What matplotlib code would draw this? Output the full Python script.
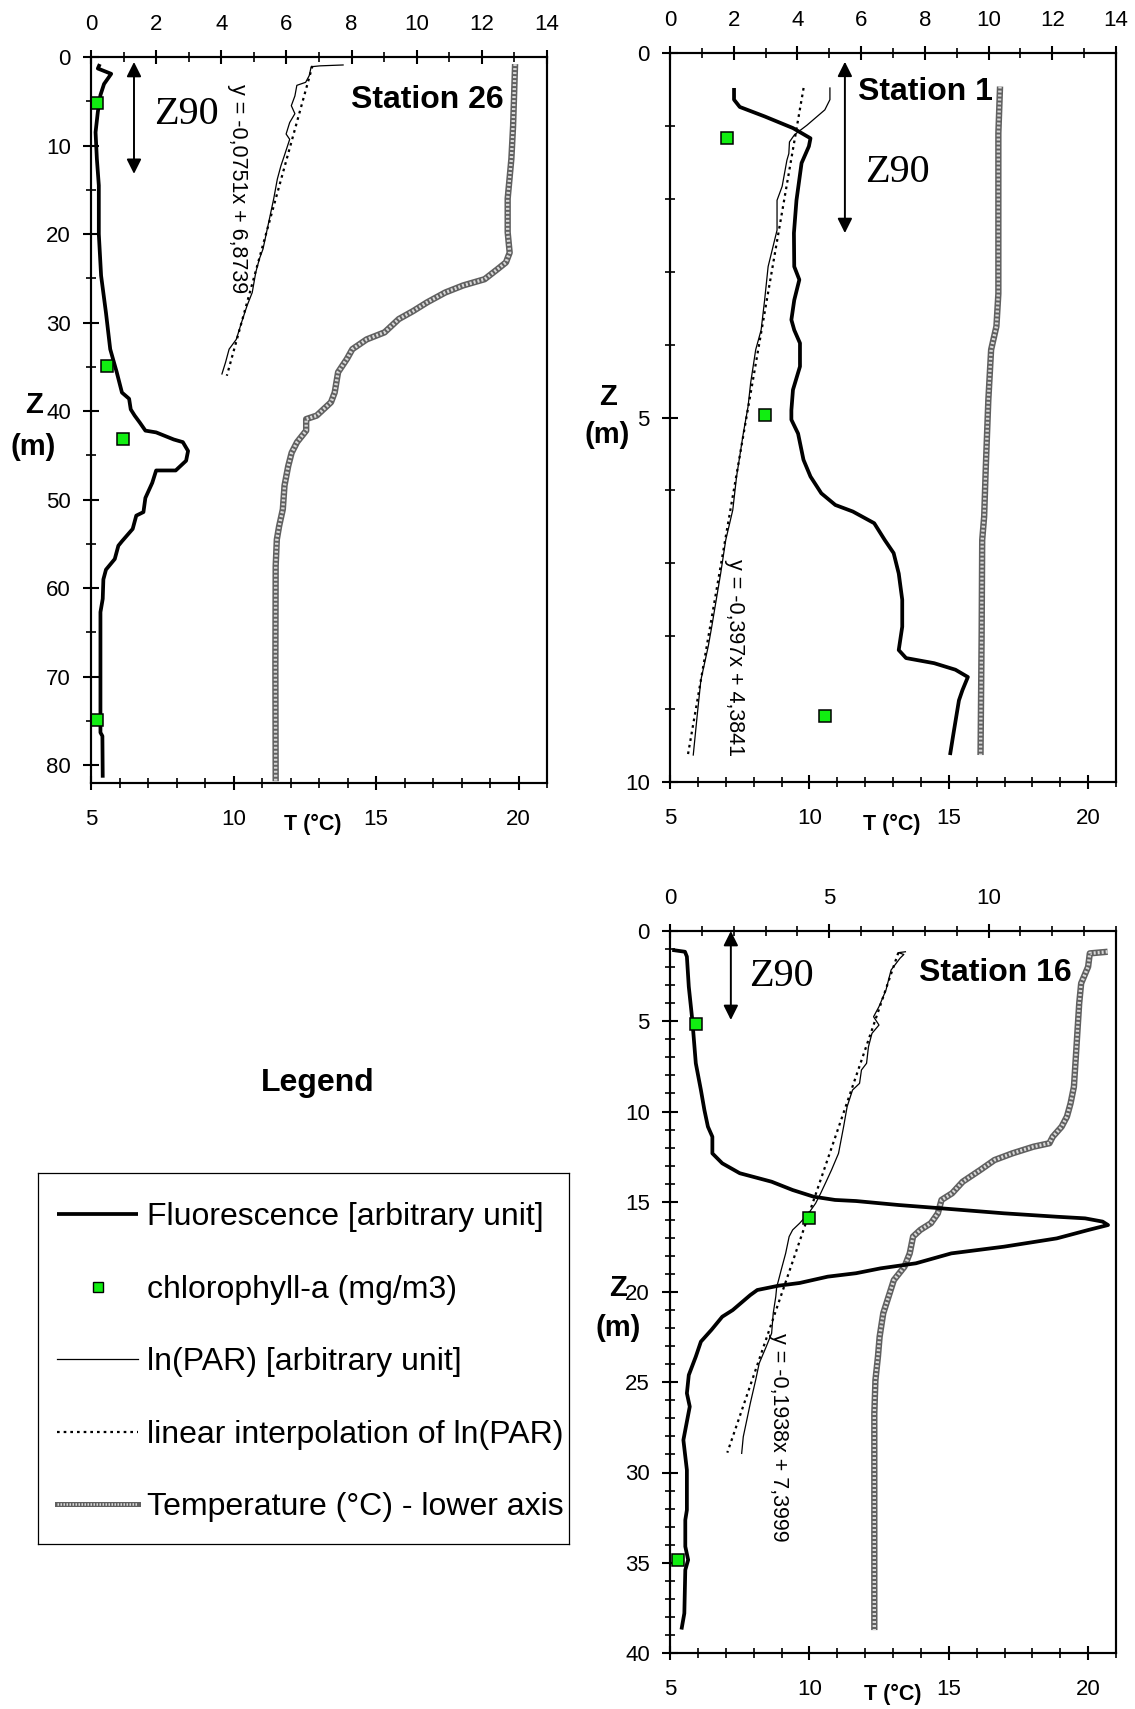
import matplotlib
matplotlib.use('Agg')
import matplotlib.pyplot as plt
from matplotlib.lines import Line2D
import numpy as np

plt.rcParams['font.family'] = ['Liberation Sans', 'DejaVu Sans']

# ---------------- data ----------------
# Station 26
s26_fl_depth = [0.8, 1.3, 1.9, 3.05, 4.3, 6.2, 8.5, 11.5, 14.5, 20, 24.7, 28.9, 33.0, 35.6, 37.9,
                38.6, 39.8, 40.5, 41.3, 42.2, 42.4, 43.2, 43.5, 44.5, 45.6, 46.7, 46.7, 48.1, 49.8, 51.4,
                51.8, 53.3, 54.7, 55.2, 56.7, 57.9, 59.0, 61.2, 62.7, 68.8, 76.3, 76.7, 81.4]
s26_fl = [0.27, 0.21, 0.62, 0.40, 0.29, 0.21, 0.14, 0.18, 0.24, 0.24, 0.31, 0.46, 0.59, 0.79, 0.95,
          1.17, 1.22, 1.34, 1.50, 1.67, 2.0, 2.54, 2.82, 2.98, 2.92, 2.6, 2.0, 1.88, 1.67, 1.61,
          1.39, 1.28, 0.95, 0.84, 0.73, 0.46, 0.38, 0.36, 0.29, 0.29, 0.29, 0.35, 0.36]
s26_par_depth = [0.9, 1.0, 1.1, 2.1, 2.86, 3.2, 4.4, 5.5, 6.4, 7.4, 8.7, 9.3, 11.1, 12.3, 13.8,
                 16.0, 17.9, 19.8, 21.7, 22.8, 24.3, 26.6, 28.1, 30.0, 31.9, 33.0, 34.5, 35.8]
s26_par = [7.74, 7.03, 6.76, 6.70, 6.59, 6.32, 6.26, 6.15, 6.26, 6.10, 5.99, 6.1, 5.94, 5.83, 5.72,
           5.61, 5.50, 5.39, 5.28, 5.17, 5.06, 4.95, 4.79, 4.62, 4.46, 4.24, 4.13, 4.02]
s26_fit_slope, s26_fit_intercept = -0.0751, 6.8739
s26_fit_depth = [1.0, 36.0]
s26_chl_depth = [5.2, 34.9, 43.2, 74.9]
s26_chl = [0.19, 0.48, 0.98, 0.19]
s26_t_depth = [0.8, 7.8, 11.5, 16.0, 19.8, 22.1, 23.2, 24.0, 25.1, 25.8, 26.6, 27.7, 28.7, 29.6, 31.1,
               31.9, 33.0, 34.1, 35.6, 37.9, 39.0, 40.5, 40.9, 42.2, 43.5, 44.7, 46.2, 48.4, 51.1, 53.0,
               54.5, 57.5, 68.8, 81.8]
s26_t = [19.88, 19.81, 19.75, 19.62, 19.62, 19.69, 19.56, 19.25, 18.81, 18.06, 17.43, 16.80, 16.30, 15.80, 15.30,
         14.67, 14.17, 13.98, 13.67, 13.55, 13.42, 12.92, 12.55, 12.55, 12.23, 12.04, 11.92, 11.79, 11.73, 11.60,
         11.52, 11.48, 11.47, 11.48]

# Station 1
s1_fl_depth = [0.48, 0.64, 0.74, 0.87, 1.03, 1.17, 1.28, 1.51, 2.02, 2.47, 2.93, 3.11, 3.39, 3.66, 3.80,
               3.98, 4.30, 4.62, 4.90, 5.03, 5.22, 5.58, 5.81, 6.04, 6.20, 6.29, 6.45, 6.68, 6.86, 7.14,
               7.50, 7.87, 8.19, 8.30, 8.37, 8.46, 8.56, 8.74, 8.88, 9.33, 9.63]
s1_fl = [2.01, 2.01, 2.19, 2.97, 3.86, 4.41, 4.36, 4.13, 3.97, 3.89, 3.90, 4.06, 3.90, 3.81, 3.90,
         4.08, 4.08, 3.86, 3.81, 3.81, 4.02, 4.19, 4.41, 4.75, 5.19, 5.74, 6.41, 6.74, 7.02, 7.18,
         7.29, 7.29, 7.18, 7.41, 8.29, 8.96, 9.35, 9.18, 9.07, 8.90, 8.79]
s1_par_depth = [0.48, 0.64, 0.78, 0.99, 1.12, 1.22, 1.38, 1.47, 1.83, 2.02, 2.43, 2.93, 3.39, 3.80, 4.07,
                4.53, 4.85, 5.22, 5.81, 6.27, 6.68, 7.14, 7.87, 8.14, 8.60, 9.06, 9.63]
s1_par = [5.02, 5.02, 4.86, 4.30, 3.91, 3.75, 3.73, 3.67, 3.52, 3.36, 3.36, 3.08, 2.97, 2.86, 2.69,
          2.53, 2.45, 2.30, 2.09, 1.97, 1.75, 1.59, 1.31, 1.20, 0.97, 0.86, 0.73]
s1_fit_slope, s1_fit_intercept = -0.397, 4.3841
s1_fit_depth = [0.48, 9.63]
s1_chl_depth = [1.16, 4.97, 9.09]
s1_chl = [1.79, 2.99, 4.86]
s1_t_depth = [0.46, 1.10, 2.02, 3.30, 3.75, 4.07, 4.76, 5.67, 6.36, 6.68, 7.96, 9.63]
s1_t = [16.84, 16.78, 16.78, 16.78, 16.71, 16.52, 16.42, 16.33, 16.27, 16.20, 16.18, 16.14]

# Station 16
s16_fl_depth = [1.05, 1.15, 1.42, 3.09, 4.93, 7.33, 8.81, 9.92, 10.84, 11.40, 12.32, 12.87, 13.42, 13.89, 14.35,
                14.72, 14.90, 14.96, 15.18, 15.36, 15.64, 15.83, 15.92, 16.10, 16.29, 16.56, 17.03, 17.49, 17.86, 18.41,
                18.69, 18.96, 19.15, 19.5, 19.65, 19.89, 20.17, 21.0, 21.37, 22.1, 22.75, 23.58, 24.6, 25.61, 26.35,
                28.2, 29.86, 32.08, 32.63, 34.1, 34.84, 35.4, 37.8, 38.7]
s16_fl = [0.07, 0.47, 0.53, 0.59, 0.70, 0.81, 0.97, 1.08, 1.19, 1.33, 1.33, 1.64, 2.19, 3.19, 3.85,
          4.51, 5.18, 5.84, 7.17, 8.49, 10.48, 12.14, 13.03, 13.58, 13.75, 13.14, 12.14, 10.48, 8.83, 7.72,
          6.61, 5.84, 4.95, 4.07, 3.41, 2.74, 2.52, 1.97, 1.64, 1.30, 0.97, 0.81, 0.59, 0.53, 0.62,
          0.42, 0.53, 0.53, 0.48, 0.48, 0.57, 0.48, 0.45, 0.36]
s16_par_depth = [1.15, 1.2, 1.3, 1.51, 2.16, 3.27, 4.19, 4.75, 5.21, 5.67, 6.41, 7.33, 7.70, 8.44, 8.81,
                 9.73, 10.84, 12.32, 13.24, 13.89, 14.53, 15.09, 15.64, 16.19, 16.56, 16.93, 17.86, 18.78, 19.33, 19.71,
                 20.26, 21.18, 22.29, 23.03, 23.95, 24.87, 26.17, 27.1, 28.02, 28.94]
s16_par = [7.39, 7.17, 7.34, 7.22, 6.94, 6.78, 6.56, 6.39, 6.56, 6.34, 6.23, 6.17, 6.01, 5.95, 5.73,
           5.56, 5.45, 5.29, 5.07, 4.90, 4.73, 4.57, 4.35, 4.07, 3.85, 3.74, 3.63, 3.49, 3.41, 3.35,
           3.32, 3.24, 3.19, 3.02, 2.80, 2.69, 2.52, 2.41, 2.30, 2.25]
s16_fit_slope, s16_fit_intercept = -0.1938, 7.3999
s16_fit_depth = [1.2, 28.9]
s16_chl_depth = [5.15, 15.92, 34.85]
s16_chl = [0.81, 4.37, 0.26]
s16_t_depth = [1.15, 1.24, 1.98, 2.90, 4.01, 5.48, 6.96, 8.63, 9.55, 10.28, 10.84, 11.40, 11.76, 11.95, 12.32,
               12.69, 13.24, 13.89, 14.53, 14.90, 15.64, 16.19, 16.56, 16.93, 17.86, 18.6, 19.34, 20.26, 21.18, 22.48,
               23.58, 24.87, 26.72, 32.26, 38.73]
s16_t = [20.70, 20.06, 20.0, 19.75, 19.68, 19.62, 19.56, 19.49, 19.37, 19.24, 19.05, 18.73, 18.61, 18.04, 17.28,
         16.64, 16.13, 15.50, 15.12, 14.74, 14.61, 14.36, 13.98, 13.72, 13.60, 13.41, 13.03, 12.84, 12.65, 12.52,
         12.46, 12.37, 12.33, 12.33, 12.33]

# Z90 arrows (upper-axis x, depth range)
z90_s26 = (1.32, 0.56, 13.2)
z90_s1 = (5.49, 0.12, 2.47)
z90_s16 = (1.91, 0.0, 4.93)

legend_labels = ['Fluorescence [arbitrary unit]', 'chlorophyll-a (mg/m3)', 'ln(PAR) [arbitrary unit]',
                 'linear interpolation of ln(PAR)', 'Temperature (°C) - lower axis']

# ---------------- styles ----------------
GREEN = '#11ee11'
FL_KW = dict(color='black', lw=2.7, solid_joinstyle='round', solid_capstyle='butt')
PAR_KW = dict(color='black', lw=0.9)
FIT_KW = dict(color='black', lw=1.6, linestyle=(0, (1.2, 1.8)))
CHL_KW = dict(linestyle='none', marker='s', markersize=8.5, markerfacecolor=GREEN,
              markeredgecolor='black', markeredgewidth=1.1)
T_BASE = dict(color='#606060', lw=4.6, solid_capstyle='butt')
T_TOP = dict(color='#d8d8d8', lw=2.4, linestyle=(0, (0.6, 0.6)))
TICK_FS = 16

W, H = 1135, 1709
fig = plt.figure(figsize=(W / 100, H / 100), dpi=100)
fig.patch.set_facecolor('white')


def fx(x):
    return x / W


def fy(y):
    return 1 - y / H


def panel(l, t, r, b, ymax, ymaj, ymin_step, topmaj, topmin):
    ax = fig.add_axes([fx(l), fy(b), fx(r) - fx(l), fy(t) - fy(b)])
    ax.set_xlim(5, 21)
    ax.set_ylim(ymax, 0)
    ax.set_xticks([5, 10, 15, 20])
    ax.set_xticks(np.arange(5, 22, 1), minor=True)
    ax.set_yticks(ymaj)
    ax.set_yticks(np.arange(0, ymax + 0.01, ymin_step), minor=True)
    axt = ax.twiny()
    axt.set_xlim(0, 14)
    axt.set_xticks(topmaj)
    axt.set_xticks(topmin, minor=True)
    for a in (ax, axt):
        for s in a.spines.values():
            s.set_linewidth(1.5)
    ax.tick_params(axis='x', which='major', direction='inout', length=10, width=1.5, labelsize=TICK_FS, pad=14)
    ax.tick_params(axis='x', which='minor', direction='inout', length=7, width=1.2)
    ax.tick_params(axis='y', which='major', direction='inout', length=11, width=1.5, labelsize=TICK_FS, pad=9,
                   right=False)
    ax.tick_params(axis='y', which='minor', direction='inout', length=7, width=1.2, right=False)
    axt.tick_params(axis='x', which='major', direction='inout', length=10, width=1.5, labelsize=TICK_FS, pad=11)
    axt.tick_params(axis='x', which='minor', direction='inout', length=7, width=1.2)
    return ax, axt


def draw(ax, axt, t_d, t_v, fl_d, fl_v, par_d, par_v, fit_d, slope, intercept, chl_d, chl_v):
    ax.plot(t_v, t_d, **T_BASE)
    ax.plot(t_v, t_d, **T_TOP)
    axt.plot(par_v, par_d, **PAR_KW)
    fd = np.array(fit_d)
    axt.plot(slope * fd + intercept, fd, **FIT_KW)
    axt.plot(fl_v, fl_d, **FL_KW)
    axt.plot(chl_v, chl_d, **CHL_KW)


def arrow(axt, spec):
    x, y0, y1 = spec
    axt.annotate('', xy=(x, y1), xytext=(x, y0),
                 arrowprops=dict(arrowstyle='<|-|>', color='black', lw=1.4, mutation_scale=22,
                                 shrinkA=0, shrinkB=0))


def ptext(x, y, s, **kw):
    fig.text(fx(x), fy(y), s, ha='center', va='center', **kw)


TITLE_FS = 23
Z90_FS = 29
EQ_FS = 15.5
ZLAB_FS = 21
T_FS = 15.5

# Station 26
ax, axt = panel(91, 57, 547, 783, 82, np.arange(0, 81, 10), 5, np.arange(0, 15, 2), np.arange(1, 14, 2))
draw(ax, axt, s26_t_depth, s26_t, s26_fl_depth, s26_fl, s26_par_depth, s26_par, s26_fit_depth,
     s26_fit_slope, s26_fit_intercept, s26_chl_depth, s26_chl)
arrow(axt, z90_s26)
ptext(427, 100, 'Station 26', fontsize=TITLE_FS, fontweight='bold')
ptext(186, 115, 'Z90', fontsize=Z90_FS, family='Liberation Serif')
ptext(237, 189, 'y = -0,0751x + 6,8739', fontsize=EQ_FS, rotation=-90)
ptext(34, 405, 'Z', fontsize=ZLAB_FS, fontweight='bold')
ptext(33, 447, '(m)', fontsize=ZLAB_FS, fontweight='bold')
ptext(313, 824, 'T (°C)', fontsize=T_FS, fontweight='bold')

# Station 1
ax, axt = panel(670, 53, 1116, 782, 10, [0, 5, 10], 1, np.arange(0, 15, 2), np.arange(1, 14, 2))
draw(ax, axt, s1_t_depth, s1_t, s1_fl_depth, s1_fl, s1_par_depth, s1_par, s1_fit_depth,
     s1_fit_slope, s1_fit_intercept, s1_chl_depth, s1_chl)
arrow(axt, z90_s1)
ptext(925, 92, 'Station 1', fontsize=TITLE_FS, fontweight='bold')
ptext(897, 173, 'Z90', fontsize=Z90_FS, family='Liberation Serif')
ptext(734, 657, 'y = -0,397x + 4,3841', fontsize=EQ_FS, rotation=-90)
ptext(608, 397, 'Z', fontsize=ZLAB_FS, fontweight='bold')
ptext(607, 435, '(m)', fontsize=ZLAB_FS, fontweight='bold')
ptext(892, 824, 'T (°C)', fontsize=T_FS, fontweight='bold')

# Station 16
ax, axt = panel(670, 931, 1116, 1653, 40, np.arange(0, 41, 5), 1, [0, 5, 10], np.arange(0, 15, 1))
draw(ax, axt, s16_t_depth, s16_t, s16_fl_depth, s16_fl, s16_par_depth, s16_par, s16_fit_depth,
     s16_fit_slope, s16_fit_intercept, s16_chl_depth, s16_chl)
arrow(axt, z90_s16)
ptext(995, 973, 'Station 16', fontsize=TITLE_FS, fontweight='bold')
ptext(781, 977, 'Z90', fontsize=Z90_FS, family='Liberation Serif')
ptext(779, 1437, 'y = -0,1938x + 7,3999', fontsize=EQ_FS, rotation=-90)
ptext(618, 1288, 'Z', fontsize=ZLAB_FS, fontweight='bold')
ptext(618, 1328, '(m)', fontsize=ZLAB_FS, fontweight='bold')
ptext(893, 1694, 'T (°C)', fontsize=T_FS, fontweight='bold')

# Legend
ptext(318, 1083, 'Legend', fontsize=23, fontweight='bold')
LB_L, LB_T, LB_R, LB_B = 38, 1173, 569, 1544
axl = fig.add_axes([fx(LB_L), fy(LB_B), fx(LB_R) - fx(LB_L), fy(LB_T) - fy(LB_B)])
axl.set_xticks([])
axl.set_yticks([])
for s in axl.spines.values():
    s.set_linewidth(0.9)
h_fl = Line2D([], [], **FL_KW)
h_chl = Line2D([], [], linestyle='none', marker='s', markersize=7, markerfacecolor=GREEN,
               markeredgecolor='black', markeredgewidth=1.0)
h_par = Line2D([], [], **PAR_KW)
h_fit = Line2D([], [], **FIT_KW)
h_t = (Line2D([], [], color='#606060', lw=3.6), Line2D([], [], color='#d8d8d8', lw=1.8, linestyle=(0, (0.6, 0.6))))
axl.legend([h_fl, h_chl, h_par, h_fit, h_t], legend_labels, loc='center left',
           bbox_to_anchor=((57 - LB_L) / (LB_R - LB_L), 0.49), frameon=False, fontsize=23, borderpad=0,
           borderaxespad=0, handlelength=2.54, handletextpad=0.28, labelspacing=1.33, numpoints=1)

fig.savefig('out.png', dpi=100, facecolor='white')
